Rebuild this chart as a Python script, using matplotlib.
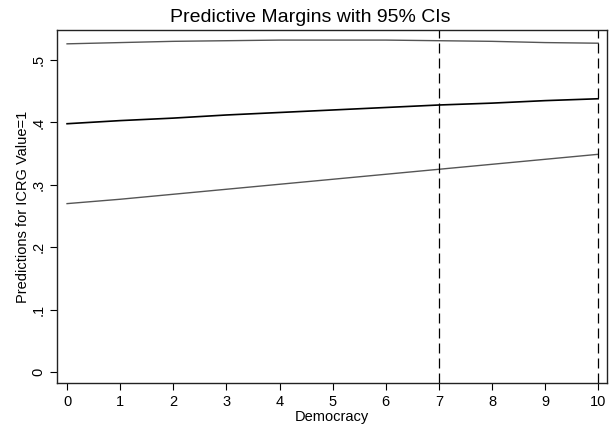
import matplotlib
matplotlib.use("Agg")
from matplotlib import pyplot as plt
import numpy as np

plt.rcParams['font.family'] = ['Liberation Sans', 'DejaVu Sans']

democracy = [0, 1, 2, 3, 4, 5, 6, 7, 8, 9, 10]
margin = [0.398, 0.403, 0.407, 0.412, 0.416, 0.420, 0.424, 0.428, 0.431, 0.435, 0.438]
ci_low = [0.270, 0.277, 0.285, 0.293, 0.301, 0.309, 0.317, 0.325, 0.333, 0.341, 0.349]
ci_high = [0.526, 0.528, 0.530, 0.531, 0.532, 0.532, 0.532, 0.531, 0.530, 0.528, 0.527]
vlines = [7, 10]
yticks = [0, 0.1, 0.2, 0.3, 0.4, 0.5]
ylabels = ["0", ".1", ".2", ".3", ".4", ".5"]

fig = plt.figure(figsize=(6.1, 4.3), dpi=100)
ax = fig.add_axes([0.0934, 0.109, 0.902, 0.821])

ax.plot(democracy, ci_high, color="#555555", lw=1.0)
ax.plot(democracy, margin, color="black", lw=1.2)
ax.plot(democracy, ci_low, color="#555555", lw=1.0)
for v in vlines:
    ax.axvline(v, color="black", lw=0.9, dashes=(8, 4))

ax.set_xlim(-0.19, 10.17)
ax.set_ylim(-0.0176, 0.548)
ax.set_xticks(democracy)
ax.set_yticks(yticks)
ax.set_yticklabels(ylabels, rotation=90, va="center")
ax.tick_params(direction="out", length=5, width=0.8, labelsize=10.5)
for s in ax.spines.values():
    s.set_linewidth(1.0)
    s.set_color("#222222")

ax.set_xlabel("Democracy", fontsize=10.5, labelpad=1)
ax.set_ylabel("Predictions for ICRG Value=1", fontsize=10.5, labelpad=1)
fig.text(0.508, 0.949, "Predictive Margins with 95% CIs", fontsize=14,
         ha="center", va="baseline")

fig.savefig("out.png", dpi=100)
